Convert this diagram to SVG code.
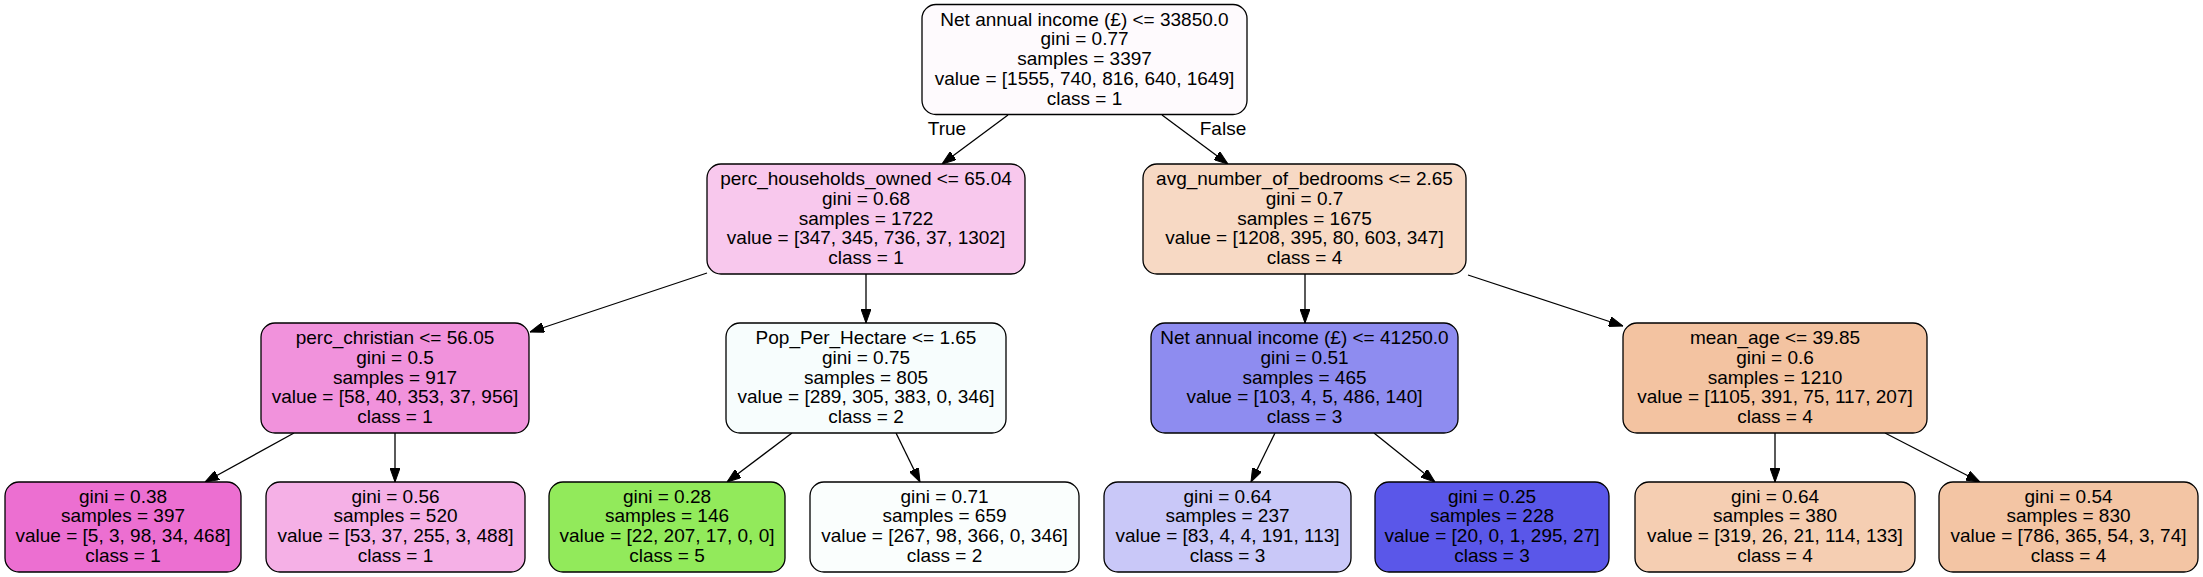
<svg xmlns="http://www.w3.org/2000/svg" width="2203" height="577" viewBox="0 0 2203 577">
<style>
.box{stroke:#000;stroke-width:1.3}
text{font-family:"Liberation Sans",Arial,Helvetica,sans-serif;font-size:19px;fill:#000;text-anchor:middle}
.edge{stroke:#000;stroke-width:1.3;fill:none;marker-end:url(#arr)}
</style>
<defs>
<marker id="arr" markerUnits="userSpaceOnUse" markerWidth="14" markerHeight="10" viewBox="0 0 14 10" refX="14" refY="5" orient="auto">
<path d="M0,0 L14,5 L0,10 z" fill="#000" stroke="#000" stroke-width="1"/>
</marker>
</defs>
<rect width="2203" height="577" fill="#fff"/>
<g id="connectors">
<line class="edge" x1="1008" y1="115" x2="942" y2="164"/>
<line class="edge" x1="1162" y1="115" x2="1228" y2="164"/>
<line class="edge" x1="707" y1="273" x2="530" y2="332"/>
<line class="edge" x1="866" y1="274" x2="866" y2="323"/>
<line class="edge" x1="1305" y1="274" x2="1305" y2="323"/>
<line class="edge" x1="1468" y1="275" x2="1623" y2="326"/>
<line class="edge" x1="294" y1="433" x2="205" y2="482"/>
<line class="edge" x1="395" y1="433" x2="395" y2="482"/>
<line class="edge" x1="792" y1="433" x2="727" y2="482"/>
<line class="edge" x1="896" y1="433" x2="920" y2="482"/>
<line class="edge" x1="1275" y1="433" x2="1251" y2="482"/>
<line class="edge" x1="1374" y1="433" x2="1435" y2="482"/>
<line class="edge" x1="1775" y1="433" x2="1775" y2="482"/>
<line class="edge" x1="1885" y1="433" x2="1980" y2="482"/>
<text x="947" y="135">True</text>
<text x="1223" y="135">False</text>
</g>
<g id="n0">
<rect class="box" x="922" y="4.5" width="325" height="110" rx="14" fill="#fefafd"/>
<text x="1084.5" y="25.5">Net annual income (£) &lt;= 33850.0</text>
<text x="1084.5" y="45.3">gini = 0.77</text>
<text x="1084.5" y="65.1">samples = 3397</text>
<text x="1084.5" y="84.9">value = [1555, 740, 816, 640, 1649]</text>
<text x="1084.5" y="104.7">class = 1</text>
</g>
<g id="n1">
<rect class="box" x="707" y="164" width="318" height="110" rx="14" fill="#f8c8ed"/>
<text x="866" y="185">perc_households_owned &lt;= 65.04</text>
<text x="866" y="204.8">gini = 0.68</text>
<text x="866" y="224.6">samples = 1722</text>
<text x="866" y="244.4">value = [347, 345, 736, 37, 1302]</text>
<text x="866" y="264.2">class = 1</text>
</g>
<g id="n2">
<rect class="box" x="261" y="323" width="268" height="110" rx="14" fill="#f192dc"/>
<text x="395" y="344">perc_christian &lt;= 56.05</text>
<text x="395" y="363.8">gini = 0.5</text>
<text x="395" y="383.6">samples = 917</text>
<text x="395" y="403.4">value = [58, 40, 353, 37, 956]</text>
<text x="395" y="423.2">class = 1</text>
</g>
<g id="n3">
<rect class="box" x="5" y="482" width="236" height="90" rx="14" fill="#ec6fd1"/>
<text x="123" y="502.5">gini = 0.38</text>
<text x="123" y="522.3">samples = 397</text>
<text x="123" y="542.1">value = [5, 3, 98, 34, 468]</text>
<text x="123" y="561.9">class = 1</text>
</g>
<g id="n4">
<rect class="box" x="266" y="482" width="259" height="90" rx="14" fill="#f5b0e6"/>
<text x="395.5" y="502.5">gini = 0.56</text>
<text x="395.5" y="522.3">samples = 520</text>
<text x="395.5" y="542.1">value = [53, 37, 255, 3, 488]</text>
<text x="395.5" y="561.9">class = 1</text>
</g>
<g id="n5">
<rect class="box" x="726" y="323" width="280" height="110" rx="14" fill="#f7fdfd"/>
<text x="866" y="344">Pop_Per_Hectare &lt;= 1.65</text>
<text x="866" y="363.8">gini = 0.75</text>
<text x="866" y="383.6">samples = 805</text>
<text x="866" y="403.4">value = [289, 305, 383, 0, 346]</text>
<text x="866" y="423.2">class = 2</text>
</g>
<g id="n6">
<rect class="box" x="549" y="482" width="236" height="90" rx="14" fill="#92ea5b"/>
<text x="667" y="502.5">gini = 0.28</text>
<text x="667" y="522.3">samples = 146</text>
<text x="667" y="542.1">value = [22, 207, 17, 0, 0]</text>
<text x="667" y="561.9">class = 5</text>
</g>
<g id="n7">
<rect class="box" x="810" y="482" width="269" height="90" rx="14" fill="#fafefd"/>
<text x="944.5" y="502.5">gini = 0.71</text>
<text x="944.5" y="522.3">samples = 659</text>
<text x="944.5" y="542.1">value = [267, 98, 366, 0, 346]</text>
<text x="944.5" y="561.9">class = 2</text>
</g>
<g id="n8">
<rect class="box" x="1143" y="164" width="323" height="110" rx="14" fill="#f7d9c4"/>
<text x="1304.5" y="185">avg_number_of_bedrooms &lt;= 2.65</text>
<text x="1304.5" y="204.8">gini = 0.7</text>
<text x="1304.5" y="224.6">samples = 1675</text>
<text x="1304.5" y="244.4">value = [1208, 395, 80, 603, 347]</text>
<text x="1304.5" y="264.2">class = 4</text>
</g>
<g id="n9">
<rect class="box" x="1151" y="323" width="307" height="110" rx="14" fill="#8e8cf0"/>
<text x="1304.5" y="344">Net annual income (£) &lt;= 41250.0</text>
<text x="1304.5" y="363.8">gini = 0.51</text>
<text x="1304.5" y="383.6">samples = 465</text>
<text x="1304.5" y="403.4">value = [103, 4, 5, 486, 140]</text>
<text x="1304.5" y="423.2">class = 3</text>
</g>
<g id="n10">
<rect class="box" x="1104" y="482" width="247" height="90" rx="14" fill="#c9c8f8"/>
<text x="1227.5" y="502.5">gini = 0.64</text>
<text x="1227.5" y="522.3">samples = 237</text>
<text x="1227.5" y="542.1">value = [83, 4, 4, 191, 113]</text>
<text x="1227.5" y="561.9">class = 3</text>
</g>
<g id="n11">
<rect class="box" x="1375" y="482" width="234" height="90" rx="14" fill="#5a57e9"/>
<text x="1492" y="502.5">gini = 0.25</text>
<text x="1492" y="522.3">samples = 228</text>
<text x="1492" y="542.1">value = [20, 0, 1, 295, 27]</text>
<text x="1492" y="561.9">class = 3</text>
</g>
<g id="n12">
<rect class="box" x="1623" y="323" width="304" height="110" rx="14" fill="#f3c3a1"/>
<text x="1775" y="344">mean_age &lt;= 39.85</text>
<text x="1775" y="363.8">gini = 0.6</text>
<text x="1775" y="383.6">samples = 1210</text>
<text x="1775" y="403.4">value = [1105, 391, 75, 117, 207]</text>
<text x="1775" y="423.2">class = 4</text>
</g>
<g id="n13">
<rect class="box" x="1635" y="482" width="280" height="90" rx="14" fill="#f5ceb2"/>
<text x="1775" y="502.5">gini = 0.64</text>
<text x="1775" y="522.3">samples = 380</text>
<text x="1775" y="542.1">value = [319, 26, 21, 114, 133]</text>
<text x="1775" y="561.9">class = 4</text>
</g>
<g id="n14">
<rect class="box" x="1939" y="482" width="259" height="90" rx="14" fill="#f3c5a4"/>
<text x="2068.5" y="502.5">gini = 0.54</text>
<text x="2068.5" y="522.3">samples = 830</text>
<text x="2068.5" y="542.1">value = [786, 365, 54, 3, 74]</text>
<text x="2068.5" y="561.9">class = 4</text>
</g>
</svg>
